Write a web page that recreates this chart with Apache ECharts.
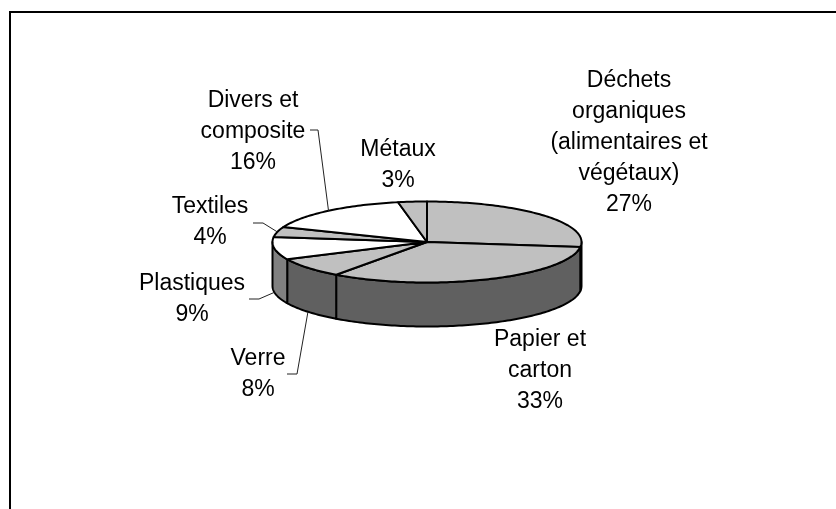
<!DOCTYPE html>
<html>
<head>
<meta charset="utf-8">
<script src="https://cdn.jsdelivr.net/npm/echarts@6/dist/echarts.min.js"></script>
<style>
html, body { margin: 0; padding: 0; background: #fff; }
#main { width: 836px; height: 509px; }
</style>
</head>
<body>
<div id="main"></div>
<script>
var categories = ['Déchets\norganiques\n(alimentaires et\nvégétaux)', 'Papier et\ncarton', 'Verre', 'Plastiques', 'Textiles', 'Divers et\ncomposite', 'Métaux'];
var percents = [27, 33, 8, 9, 4, 16, 3];
var topColors = ['#c0c0c0', '#c0c0c0', '#c0c0c0', '#ffffff', '#c0c0c0', '#ffffff', '#c0c0c0'];
var sideColors = ['#606060', '#606060', '#606060', '#808080', '#606060', '#808080', '#606060'];
// label centres, and the elbow of the leader line (x of text end, x of knee, y)
var labelCenters = [[629, 143], [540, 371], [258, 374], [192, 299], [210, 222], [253, 132], [398, 165]];
var leaders = [null, null, [287, 297, 374], [249, 259, 299], [253, 263, 223], [310, 318, 130], null];

var cx = 427, cy = 242, rx = 154.5, ry = 40.5, depth = 44;

var total = 0;
percents.forEach(function (v) { total += v; });
var starts = [];
var sum = 0;
percents.forEach(function (v) { starts.push(sum / total * 2 * Math.PI); sum += v; });

function rim(a, dy) {
    return [cx + rx * Math.sin(a), cy - ry * Math.cos(a) + (dy || 0)];
}
function arc(a0, a1, dy) {
    var pts = [];
    var n = Math.max(2, Math.ceil((a1 - a0) / 0.02));
    for (var i = 0; i <= n; i++) pts.push(rim(a0 + (a1 - a0) * i / n, dy));
    return pts;
}
function sliceAngles(i, val) {
    var a0 = starts[i];
    return [a0, a0 + val / total * 2 * Math.PI];
}

var outline = {stroke: '#000', lineWidth: 2, lineJoin: 'round'};

function renderSide(params, api) {
    var i = params.dataIndex;
    var ang = sliceAngles(i, api.value(0));
    var a0 = Math.max(ang[0], Math.PI / 2);
    var a1 = Math.min(ang[1], Math.PI * 1.5);
    if (a1 <= a0) return {type: 'group', children: []};
    var pts = arc(a0, a1, 0).concat(arc(a0, a1, depth).reverse());
    return {
        type: 'polygon',
        shape: {points: pts},
        style: echarts.util.extend({fill: sideColors[i]}, outline)
    };
}

function renderTop(params, api) {
    var i = params.dataIndex;
    var ang = sliceAngles(i, api.value(0));
    return {
        type: 'polygon',
        shape: {points: [[cx, cy]].concat(arc(ang[0], ang[1], 0))},
        style: echarts.util.extend({fill: topColors[i]}, outline)
    };
}

function renderLabel(params, api) {
    var i = params.dataIndex;
    var ang = sliceAngles(i, api.value(0));
    var c = labelCenters[i];
    var children = [{
        type: 'text',
        x: c[0],
        y: c[1],
        style: {
            text: categories[i] + '\n' + api.value(0) + '%',
            fontFamily: 'Liberation Sans',
            fontSize: 23,
            lineHeight: 31,
            fill: '#000',
            align: 'center',
            verticalAlign: 'middle'
        }
    }];
    if (leaders[i]) {
        var mid = (ang[0] + ang[1]) / 2;
        // leaders touch the bottom rim in front, the top rim at the back
        var end = rim(mid, Math.cos(mid) < 0 ? depth : 0);
        var l = leaders[i];
        children.push({
            type: 'polyline',
            shape: {points: [[l[0], l[2]], [l[1], l[2]], end]},
            style: {stroke: '#222', lineWidth: 1, fill: null}
        });
    }
    return {type: 'group', children: children};
}

var myChart = echarts.init(document.getElementById('main'), null, {renderer: 'canvas'});
var option = {
    animation: false,
    backgroundColor: '#fff',
    graphic: [{
        type: 'polyline',
        silent: true,
        shape: {points: [[10, 509], [10, 12], [836, 12]]},
        style: {stroke: '#000', lineWidth: 2, fill: null}
    }],
    series: [
        {type: 'custom', coordinateSystem: 'none', z: 2, silent: true, renderItem: renderSide, data: percents},
        {type: 'custom', coordinateSystem: 'none', z: 3, silent: true, renderItem: renderTop, data: percents},
        {type: 'custom', coordinateSystem: 'none', z: 4, silent: true, renderItem: renderLabel, data: percents}
    ]
};
myChart.setOption(option);
</script>
</body>
</html>
